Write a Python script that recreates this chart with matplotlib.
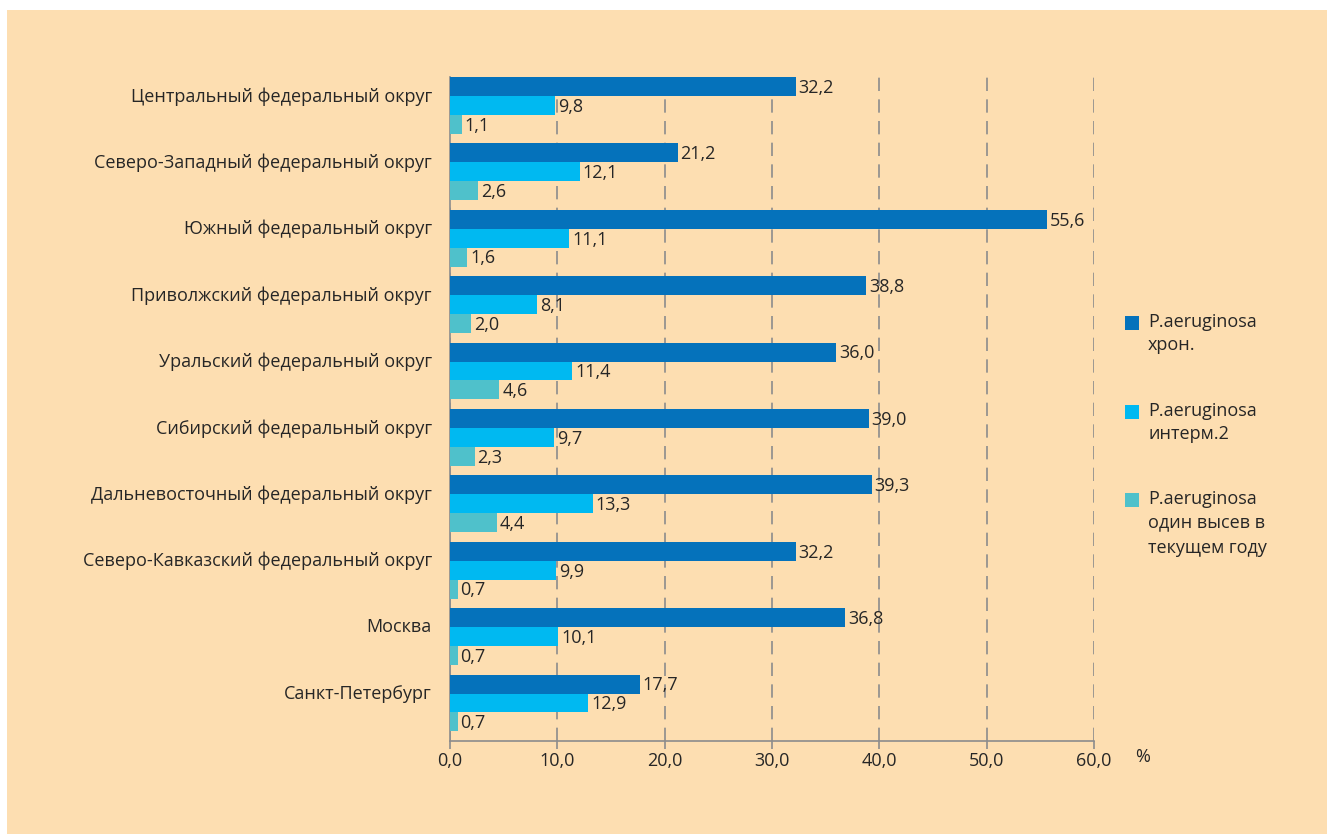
import numpy as np
import matplotlib
matplotlib.use("Agg")
import matplotlib.pyplot as plt
from matplotlib.patches import Rectangle

plt.rcParams['font.family'] = ['Open Sans', 'DejaVu Sans']

regions = ["Центральный федеральный округ", "Северо-Западный федеральный округ",
           "Южный федеральный округ", "Приволжский федеральный округ",
           "Уральский федеральный округ", "Сибирский федеральный округ",
           "Дальневосточный федеральный округ", "Северо-Кавказский федеральный округ",
           "Москва", "Санкт-Петербург"]
chron = [32.2, 21.2, 55.6, 38.8, 36.0, 39.0, 39.3, 32.2, 36.8, 17.7]
interm = [9.8, 12.1, 11.1, 8.1, 11.4, 9.7, 13.3, 9.9, 10.1, 12.9]
single = [1.1, 2.6, 1.6, 2.0, 4.6, 2.3, 4.4, 0.7, 0.7, 0.7]
series_names = ["P.aeruginosa\nхрон.", "P.aeruginosa\nинтерм.2",
                "P.aeruginosa\nодин высев в\nтекущем году"]
colors = ["#0572BB", "#00B9F1", "#4FC1CB"]
bg = "#FDDEB1"
txt = "#262626"
fs = 13

fig = plt.figure(figsize=(13.27, 8.34), dpi=100, facecolor="white")
fig.patches.append(Rectangle((7 / 1327, 0), 1, 1 - 10 / 834, transform=fig.transFigure,
                             facecolor=bg, edgecolor="none", zorder=-10))
ax = fig.add_axes([450 / 1327, 93 / 834, 644 / 1327, 664 / 834])
ax.set_facecolor("none")

y = np.arange(len(regions))
h = 0.285
for k, vals in enumerate([chron, interm, single]):
    pos = y - 0.5 + h / 2 + k * h
    ax.barh(pos, vals, height=h, color=colors[k], zorder=3)
    for p, v in zip(pos, vals):
        ax.annotate(f"{v:.1f}".replace(".", ","), (v, p), xytext=(2, -1),
                    textcoords="offset points", va="center", ha="left",
                    fontsize=fs, color=txt, zorder=4)

ax.set_ylim(len(regions) - 0.5, -0.5)
ax.set_xlim(0, 60)
ax.set_yticks(y - 0.24)
ax.set_yticklabels(regions, fontsize=fs, color=txt)
ax.tick_params(axis="y", length=0, pad=13)
ax.set_xticks(np.arange(0, 61, 10))
ax.set_xticklabels([f"{t:.1f}".replace(".", ",") for t in range(0, 61, 10)],
                   fontsize=fs, color=txt)
ax.tick_params(axis="x", length=6, color="#8c8c8c", width=1.2, pad=2)
ax.grid(axis="x", color="#8c8c8c", linestyle=(0, (8, 5)), linewidth=1.2, zorder=0)
for s in ["top", "right"]:
    ax.spines[s].set_visible(False)
for s in ["left", "bottom"]:
    ax.spines[s].set_color("#8c8c8c")
    ax.spines[s].set_linewidth(1.2)
fig.text(1143 / 1327, 1 - 757 / 834, "%", ha="center", va="center",
         fontsize=fs, color=txt)

# legend
leg_y = [[322, 345], [411, 434], [499, 522, 548]]
for k, name in enumerate(series_names):
    y0 = leg_y[k][0]
    fig.patches.append(Rectangle((1125 / 1327, 1 - (y0 + 8) / 834), 14 / 1327, 14 / 834,
                                 transform=fig.transFigure, facecolor=colors[k],
                                 edgecolor="none"))
    for line, yy in zip(name.split("\n"), leg_y[k]):
        fig.text(1148 / 1327, 1 - yy / 834, line, ha="left", va="center",
                 fontsize=fs, color=txt)

fig.savefig("out.png", dpi=100, facecolor="white")
